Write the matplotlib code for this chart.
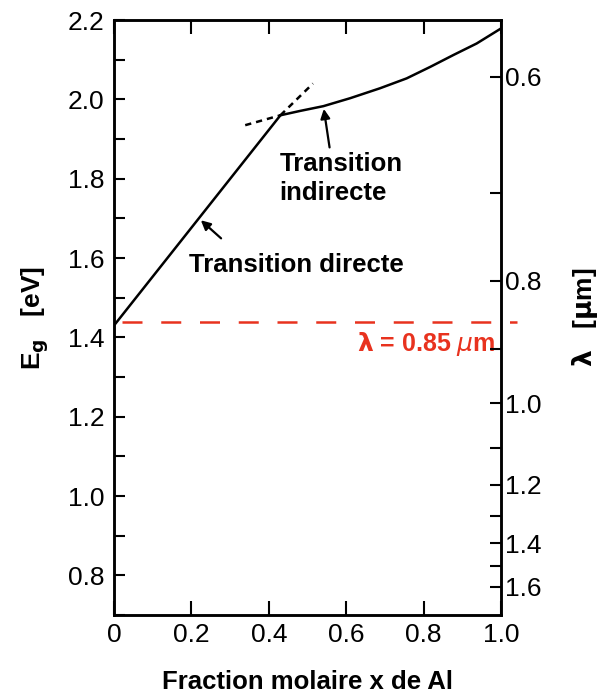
import numpy as np
import matplotlib
matplotlib.use('Agg')
import matplotlib.pyplot as plt
from matplotlib.ticker import FixedLocator, MultipleLocator

plt.rcParams['font.family'] = ['Liberation Sans', 'DejaVu Sans']

# Bandgap of AlxGa1-xAs
x_direct = [0.0, 0.43]
eg_direct = [1.43, 1.96]
x_direct_ext = [0.43, 0.514]
eg_direct_ext = [1.96, 2.04]

x_indirect = [0.43, 0.481, 0.541, 0.610, 0.687, 0.756, 0.817, 0.877, 0.937, 1.0]
eg_indirect = [1.96, 1.971, 1.983, 2.003, 2.028, 2.053, 2.082, 2.112, 2.141, 2.179]
x_indirect_ext = [0.339, 0.43]
eg_indirect_ext = [1.935, 1.96]

eg_ref = 1.44           # dashed red line (lambda = 0.85 um)
hc = 1.234              # eV.um, as placed on the original scale
lambda_major = [0.6, 0.8, 1.0, 1.2, 1.4, 1.6]
lambda_minor = [0.7, 0.9, 1.1, 1.3, 1.5]

red = '#e8321e'

fig = plt.figure(figsize=(6.01, 6.95), dpi=100)
ax = fig.add_axes([0.1897, 0.1151, 0.644, 0.856])

ax.plot(x_direct, eg_direct, color='black', lw=1.8, solid_capstyle='butt')
ax.plot(x_indirect, eg_indirect, color='black', lw=1.8)
ax.plot(x_direct_ext, eg_direct_ext, color='black', lw=1.8, ls=(0, (2.5, 2)))
ax.plot(x_indirect_ext, eg_indirect_ext, color='black', lw=1.8, ls=(0, (2.5, 2)))

ax.plot([0.02, 1.04], [eg_ref, eg_ref], color=red, lw=1.8,
        ls=(0, (8, 7.5)), clip_on=False, zorder=5)
ax.text(0.985, eg_ref - 0.022, r'$\mathbf{\lambda}$ = 0.85 $\mathit{\mu}$m', color=red,
        fontsize=18, fontweight='bold', ha='right', va='top')

ax.set_xlim(0, 1.0)
ax.set_ylim(0.70, 2.2)
ax.xaxis.set_major_locator(MultipleLocator(0.2))
ax.yaxis.set_major_locator(MultipleLocator(0.2))
ax.yaxis.set_minor_locator(MultipleLocator(0.1))
ax.xaxis.set_major_formatter(plt.FuncFormatter(lambda v, p: '0' if abs(v) < 1e-9 else f'{v:.1f}'))
ax.yaxis.set_major_formatter(plt.FuncFormatter(lambda v, p: f'{v:.1f}'))

ax.tick_params(axis='x', which='major', direction='in', length=10, width=1.5,
               labelsize=19, top=True, pad=6)
ax.tick_params(axis='y', which='both', direction='in', length=8, width=1.5,
               labelsize=19, right=False, pad=7)
for s in ax.spines.values():
    s.set_linewidth(1.8)

ax.set_xlabel('Fraction molaire x de Al', fontsize=18.5, fontweight='bold', labelpad=16)
ax.set_ylabel(r'E$_\mathbf{g}$   [eV]', fontsize=19, fontweight='bold', labelpad=12)

# right axis: wavelength
ax2 = ax.twinx()
ax2.set_ylim(ax.get_ylim())
ax2.yaxis.set_major_locator(FixedLocator([hc / l for l in lambda_major]))
ax2.yaxis.set_minor_locator(FixedLocator([hc / l for l in lambda_minor]))
ax2.set_yticklabels([f'{l:.1f}' for l in lambda_major])
ax2.tick_params(axis='y', which='both', direction='in', length=8, width=1.5,
                labelsize=19, pad=3)
ax2.set_ylabel(r'$\mathbf{\lambda}$   [$\mathbf{\mu}$m]', fontsize=19, fontweight='bold',
               rotation=90, labelpad=20)
for s in ax2.spines.values():
    s.set_linewidth(1.8)

ax.annotate('', xy=(0.219, 1.70), xytext=(0.282, 1.645),
            arrowprops=dict(arrowstyle='-|>', color='black', lw=1.6, mutation_scale=14))
ax.text(0.195, 1.583, 'Transition directe', fontsize=18.5, fontweight='bold',
        ha='left', va='center')

ax.annotate('', xy=(0.541, 1.983), xytext=(0.558, 1.872),
            arrowprops=dict(arrowstyle='-|>', color='black', lw=1.6, mutation_scale=14))
ax.text(0.428, 1.800, 'Transition\nindirecte', fontsize=18.5, fontweight='bold',
        ha='left', va='center', linespacing=1.25)

fig.savefig('out.png', dpi=100)
